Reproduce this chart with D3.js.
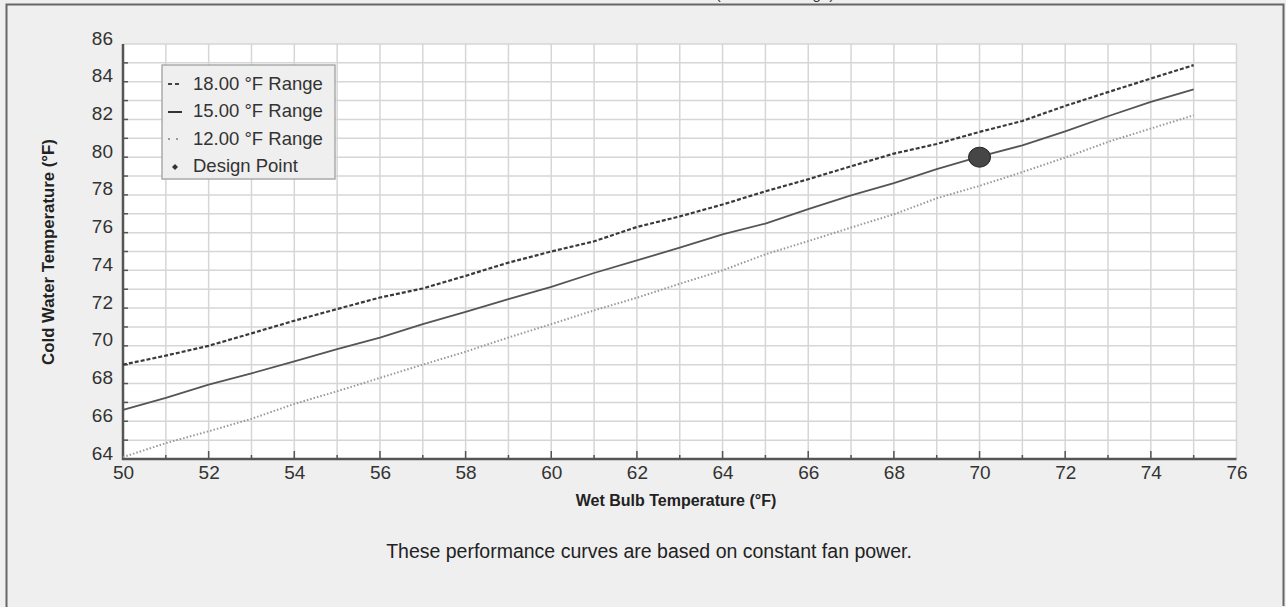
<!DOCTYPE html>
<html><head><meta charset="utf-8">
<script src="https://cdn.jsdelivr.net/npm/d3@7"></script>
<style>
html,body{margin:0;padding:0;background:#efefef;}
svg{display:block;font-family:"Liberation Sans",Arial,sans-serif;}
</style></head>
<body>
<svg id="c" width="1286" height="607"></svg>
<script>
const wetBulb = [50,51,52,53,54,55,56,57,58,59,60,61,62,63,64,65,66,67,68,69,70,71,72,73,74,75];
const range18 = [69.0,69.48,70.0,70.66,71.33,71.95,72.56,73.04,73.71,74.41,75.0,75.54,76.30,76.86,77.49,78.19,78.83,79.52,80.19,80.70,81.34,81.92,82.72,83.45,84.17,84.88];
const range15 = [66.60,67.24,67.94,68.54,69.17,69.83,70.44,71.15,71.80,72.48,73.13,73.86,74.53,75.20,75.91,76.48,77.25,77.98,78.63,79.37,80.03,80.63,81.37,82.17,82.93,83.60];
const range12 = [64.1,64.84,65.47,66.13,66.92,67.59,68.30,69.0,69.69,70.44,71.15,71.88,72.55,73.29,74.0,74.85,75.55,76.27,76.97,77.82,78.48,79.21,79.98,80.81,81.52,82.22];
const designPoint = {x:70, y:80};
const seriesNames = ["18.00 °F Range","15.00 °F Range","12.00 °F Range","Design Point"];
const xTicks = [50,52,54,56,58,60,62,64,66,68,70,72,74,76];
const yTicks = [64,66,68,70,72,74,76,78,80,82,84,86];

const svg = d3.select("#c");
const L=123, R=1236.5, T=44, B=459;
const x = d3.scaleLinear().domain([50,76]).range([L,R]);
const y = d3.scaleLinear().domain([64,86]).range([B,T]);
const FF = "Liberation Sans, Arial, sans-serif";

// frame
svg.append("rect").attr("x",0).attr("y",0).attr("width",1286).attr("height",607).attr("fill","#efefef");
svg.append("text").attr("x",775).attr("y",-1).attr("text-anchor","middle").attr("font-size",15).attr("fill","#333")
  .text("(Constant Range)");
svg.append("path").attr("d","M6.5,607 V4.5 H1283.5 V606").attr("fill","none").attr("stroke","#666").attr("stroke-width",2);

// plot bg
svg.append("rect").attr("x",L).attr("y",T).attr("width",R-L).attr("height",B-T).attr("fill","#fff");

// grid
const g = svg.append("g");
g.selectAll(".vx").data(d3.range(51,77)).join("line")
  .attr("x1",d=>x(d)).attr("x2",d=>x(d)).attr("y1",T).attr("y2",B)
  .attr("stroke","#d6d6d6").attr("stroke-width",1.5);
g.selectAll(".hy").data(d3.range(65,87)).join("line")
  .attr("x1",L).attr("x2",R).attr("y1",d=>y(d)).attr("y2",d=>y(d))
  .attr("stroke","#d6d6d6").attr("stroke-width",1.5);

// axes
const xAxis = d3.axisBottom(x).tickValues(xTicks).tickSize(0).tickPadding(6.5).tickFormat(d3.format("d"));
const xa = svg.append("g").attr("transform",`translate(0,${B})`).call(xAxis);
xa.attr("font-size",19).attr("font-family",FF);
xa.select(".domain").remove();
xa.selectAll("text").attr("fill","#333");
const yAxis = d3.axisLeft(y).tickValues(yTicks).tickSize(0).tickPadding(10).tickFormat(d3.format("d"));
const ya = svg.append("g").attr("transform",`translate(${L},0)`).call(yAxis);
ya.attr("font-size",19).attr("font-family",FF);
ya.select(".domain").remove();
ya.selectAll("text").attr("fill","#333").attr("dy","0em");

// tick marks inward
svg.append("g").selectAll("line").data(d3.range(51,76)).join("line")
  .attr("x1",d=>x(d)).attr("x2",d=>x(d)).attr("y1",B).attr("y2",d=>B-(d%2===0?8:4))
  .attr("stroke","#555").attr("stroke-width",1.5);
svg.append("g").selectAll("line").data(d3.range(65,86)).join("line")
  .attr("x1",L).attr("x2",L+5).attr("y1",d=>y(d)).attr("y2",d=>y(d))
  .attr("stroke","#555").attr("stroke-width",1.5);

svg.append("line").attr("x1",L).attr("x2",L).attr("y1",T).attr("y2",B+1).attr("stroke","#555").attr("stroke-width",2.5);
svg.append("line").attr("x1",L-1).attr("x2",R).attr("y1",B).attr("y2",B).attr("stroke","#555").attr("stroke-width",2.5);

// lines
const line = d3.line().x((d,i)=>x(wetBulb[i])).y(d=>y(d));
const styles = [
  {data:range18, stroke:"#3a3a3a", dash:"4,2", w:2.2},
  {data:range15, stroke:"#555", dash:null, w:1.8},
  {data:range12, stroke:"#999", dash:"1.5,2", w:2}
];
styles.forEach(s=>{
  svg.append("path").attr("d",line(s.data)).attr("fill","none").attr("stroke",s.stroke)
    .attr("stroke-width",s.w).attr("stroke-dasharray",s.dash);
});

// design point
svg.append("ellipse").attr("cx",x(designPoint.x)).attr("cy",y(designPoint.y)).attr("rx",11).attr("ry",10)
  .attr("fill","#464646").attr("stroke","#222").attr("stroke-width",1);

// legend
const lg = svg.append("g");
lg.append("rect").attr("x",162).attr("y",65).attr("width",173).attr("height",114)
  .attr("fill","#efefef").attr("stroke","#aaa").attr("stroke-width",1.5);
const ly = [83,110,138,165];
seriesNames.forEach((n,i)=>{
  lg.append("text").attr("x",193).attr("y",ly[i]+6.5).attr("font-size",18.5).attr("fill","#333").text(n);
});
lg.append("line").attr("x1",168).attr("x2",182).attr("y1",ly[0]+1).attr("y2",ly[0]+1).attr("stroke","#444").attr("stroke-width",2.2).attr("stroke-dasharray","4,3");
lg.append("line").attr("x1",168).attr("x2",182).attr("y1",ly[1]+2).attr("y2",ly[1]+2).attr("stroke","#333").attr("stroke-width",2);
lg.append("line").attr("x1",168).attr("x2",182).attr("y1",ly[2]+1).attr("y2",ly[2]+1).attr("stroke","#999").attr("stroke-width",2).attr("stroke-dasharray","2,6");
lg.append("path").attr("d",`M175,${ly[3]-1} l3,3 l-3,3 l-3,-3 z`).attr("fill","#333");

// titles
svg.append("text").attr("x",676).attr("y",506).attr("text-anchor","middle").attr("font-size",16)
  .attr("font-weight","bold").attr("fill","#222").text("Wet Bulb Temperature (°F)");
svg.append("text").attr("transform","translate(54,252) rotate(-90)").attr("text-anchor","middle").attr("font-size",16.8)
  .attr("font-weight","bold").attr("fill","#222").text("Cold Water Temperature (°F)");
svg.append("text").attr("x",649).attr("y",558).attr("text-anchor","middle").attr("font-size",19.5)
  .attr("fill","#222").text("These performance curves are based on constant fan power.");
</script>
</body></html>
